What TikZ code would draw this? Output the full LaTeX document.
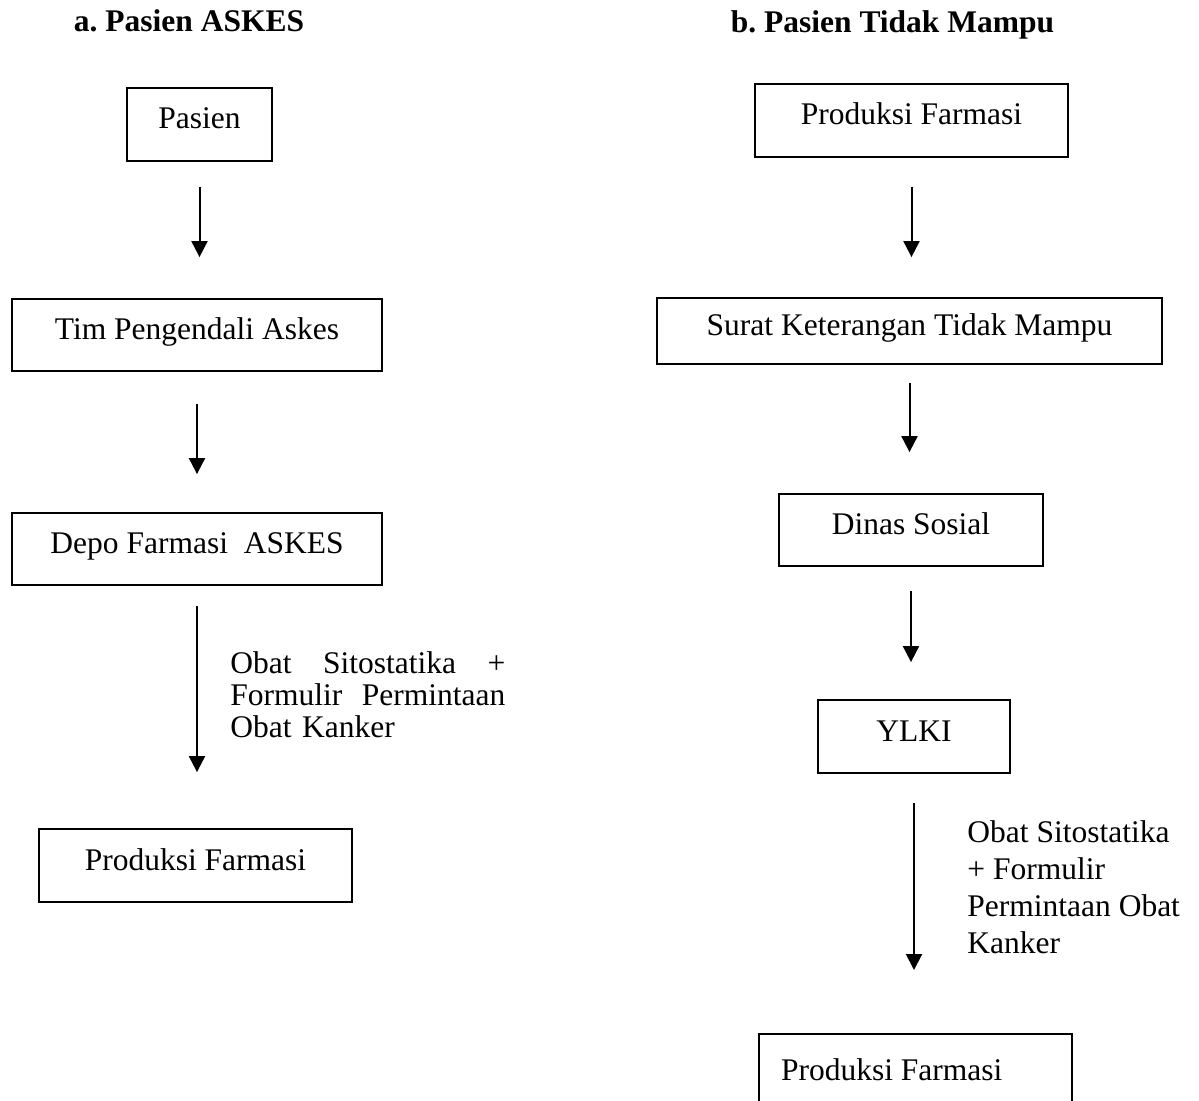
\documentclass[tikz,border=0pt]{standalone}
\usepackage{fontspec}
\setmainfont{Liberation Serif}
\usetikzlibrary{arrows.meta}
\frenchspacing

\begin{document}
\begin{tikzpicture}[x=0.5pt, y=-0.5pt, font=\fontsize{15.75}{16}\selectfont,
  flowbox/.style={draw, line width=0.9pt, inner sep=0pt, text height=0.7em, text depth=0.25em},
  flow/.style={line width=1pt, -{Triangle[width=8pt,length=8pt]}}]
  \useasboundingbox (0,0) rectangle (1199,1101);

  % titles
  \node[anchor=base, font=\fontsize{15.75}{16}\selectfont\bfseries] (titleA) at (189,32) {a. Pasien ASKES};
  \node[anchor=base, font=\fontsize{15.75}{16}\selectfont\bfseries] (titleB) at (892.5,33) {b. Pasien Tidak Mampu};

  % a. Pasien ASKES
  \node[flowbox, minimum width=72.5pt, minimum height=36.5pt] (pasien) at (199.5,124.5) {Pasien};
  \node[flowbox, minimum width=185pt, minimum height=36pt] (tim) at (197,335) {Tim Pengendali Askes};
  \node[flowbox, minimum width=185pt, minimum height=36pt] (depo) at (197,549) {Depo Farmasi~ ASKES};
  \node[flowbox, minimum width=156.5pt, minimum height=36.5pt] (prodA) at (195.5,865.5) {Produksi Farmasi};
  \node[anchor=north west, inner sep=0pt, text width=137.5pt, align=left] (noteA) at (230,651.5)
    {Obat\hfill Sitostatika\hfill +\\Formulir\hfill Permintaan\\Obat Kanker};

  \draw[flow, shorten <=12.5pt, shorten >=20.5pt] (pasien.south) -- (pasien.south |- tim.north);
  \draw[flow, shorten <=16pt, shorten >=19pt] (tim.south) -- (tim.south |- depo.north);
  \draw[flow, shorten <=10pt, shorten >=28pt] (depo.south) -- (depo.south |- prodA.north);

  % b. Pasien Tidak Mampu
  \node[flowbox, minimum width=156.5pt, minimum height=36.5pt] (prodB) at (911.5,120.5) {Produksi Farmasi};
  \node[flowbox, minimum width=252.5pt, minimum height=33pt] (surat) at (909.5,331) {Surat Keterangan Tidak Mampu};
  \node[flowbox, minimum width=132pt, minimum height=36pt] (dinas) at (911,530) {Dinas Sosial};
  \node[flowbox, minimum width=96pt, minimum height=36.5pt] (ylki) at (914,736.5) {YLKI};
  \node[flowbox, anchor=north, minimum height=42pt, inner xsep=11pt] (prodC) at (915.5,1033)
    {\makebox[134.5pt][l]{Produksi Farmasi}};
  \node[anchor=north west, inner sep=0pt, align=left, font=\fontsize{15.75}{18.5}\selectfont] (noteB) at (967,820.5)
    {Obat Sitostatika\\+ Formulir\\Permintaan Obat\\Kanker};

  \draw[flow, shorten <=14.5pt, shorten >=20pt] (prodB.south) -- (prodB.south |- surat.north);
  \draw[flow, shorten <=9pt, shorten >=20.5pt] (surat.south) -- (surat.south |- dinas.north);
  \draw[flow, shorten <=12pt, shorten >=18.5pt] (dinas.south) -- (dinas.south |- ylki.north);
  \draw[flow, shorten <=14.5pt, shorten >=31.5pt] (ylki.south) -- (ylki.south |- prodC.north);
\end{tikzpicture}
\end{document}
